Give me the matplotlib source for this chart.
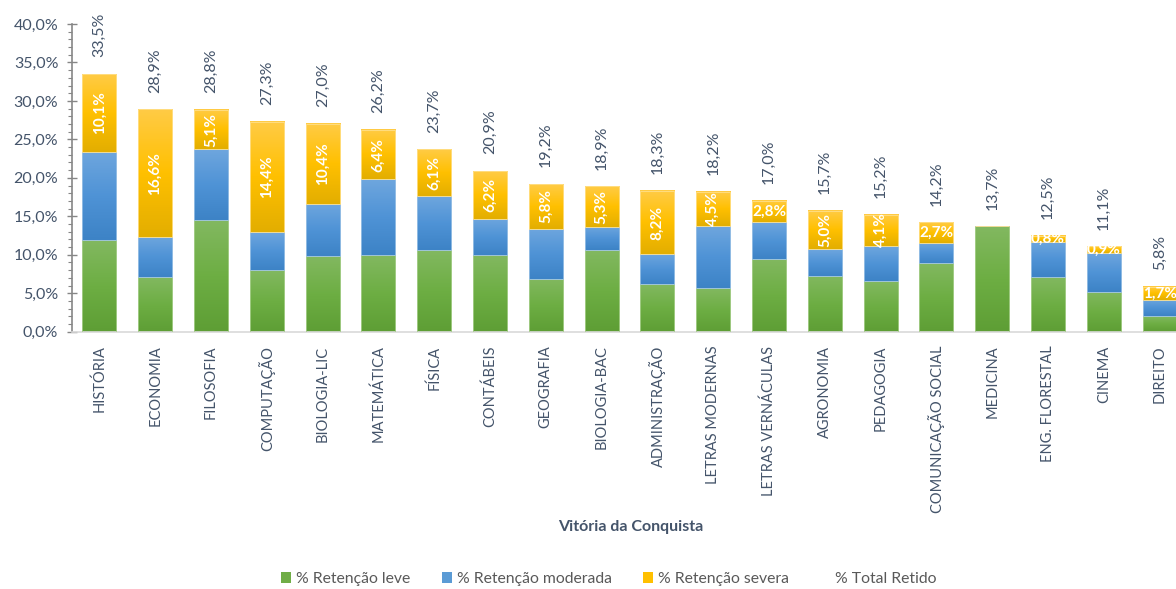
import numpy as np
import matplotlib
matplotlib.use("Agg")
import matplotlib.pyplot as plt
from matplotlib.colors import LinearSegmentedColormap
from matplotlib.patches import Patch
from matplotlib.lines import Line2D
from matplotlib.ticker import MultipleLocator, FuncFormatter

# dados
cursos = ["HISTÓRIA", "ECONOMIA", "FILOSOFIA", "COMPUTAÇÃO", "BIOLOGIA-LIC",
          "MATEMÁTICA", "FÍSICA", "CONTÁBEIS", "GEOGRAFIA", "BIOLOGIA-BAC",
          "ADMINISTRAÇÃO", "LETRAS MODERNAS", "LETRAS VERNÁCULAS", "AGRONOMIA",
          "PEDAGOGIA", "COMUNICAÇÃO SOCIAL", "MEDICINA", "ENG. FLORESTAL",
          "CINEMA", "DIREITO"]
leve = [11.9, 7.1, 14.5, 8.0, 9.8, 10.0, 10.6, 10.0, 6.9, 10.6,
        6.2, 5.7, 9.5, 7.3, 6.6, 8.9, 13.7, 7.1, 5.2, 2.0]
moderada = [11.5, 5.2, 9.2, 4.9, 6.8, 9.8, 7.0, 4.7, 6.5, 3.0,
            3.9, 8.0, 4.7, 3.4, 4.5, 2.6, 0.0, 4.6, 5.0, 2.1]
severa = [10.1, 16.6, 5.1, 14.4, 10.4, 6.4, 6.1, 6.2, 5.8, 5.3,
          8.2, 4.5, 2.8, 5.0, 4.1, 2.7, 0.0, 0.8, 0.9, 1.7]
total = [33.5, 28.9, 28.8, 27.3, 27.0, 26.2, 23.7, 20.9, 19.2, 18.9,
         18.3, 18.2, 17.0, 15.7, 15.2, 14.2, 13.7, 12.5, 11.1, 5.8]

TXT = "#44546A"
plt.rcParams["font.family"] = ["Lato", "DejaVu Sans"]


def fmt(v):
    return f"{v:.1f}".replace(".", ",") + "%"


fig = plt.figure(figsize=(11.76, 5.89), dpi=100)
ax = fig.add_axes([71.5 / 1176, 1 - 331.7 / 589, 1116 / 1176, (331.7 - 24) / 589])

x = np.arange(len(cursos))
leve = np.array(leve)
moderada = np.array(moderada)
severa = np.array(severa)

# gradientes estilo Excel
grad = np.linspace(0, 1, 64).reshape(-1, 1)
cmaps = {
    "verde": LinearSegmentedColormap.from_list("g", ["#5E9E35", "#6DAE43", "#82B860"]),
    "azul": LinearSegmentedColormap.from_list("b", ["#3D83C6", "#4F93D6", "#6EA6DE"]),
    "amarelo": LinearSegmentedColormap.from_list("y", ["#E3AE00", "#FFC000", "#FFCB45"]),
}


def draw_series(bottom, vals, key, edge):
    bars = ax.bar(x, vals, 0.61, bottom=bottom, facecolor="none",
                  edgecolor=edge, linewidth=0.6, zorder=3)
    for b in bars:
        h = b.get_height()
        if h <= 0:
            continue
        x0 = b.get_x()
        ax.imshow(grad, extent=[x0, x0 + b.get_width(), b.get_y(), b.get_y() + h],
                  origin="lower", aspect="auto", cmap=cmaps[key], zorder=2)
    return bars


draw_series(0, leve, "verde", "#A9D08E")
draw_series(leve, moderada, "azul", "#9DC3E6")
draw_series(leve + moderada, severa, "amarelo", "#FFE08A")

# rótulos da retenção severa
for i, v in enumerate(severa):
    if v <= 0:
        continue
    yc = leve[i] + moderada[i] + v / 2
    rot = 90 if v >= 4 else 0
    ax.text(x[i], yc, fmt(v), color="white", fontsize=11, fontweight="bold",
            rotation=rot, ha="center", va="center", zorder=5)

# série total (sem linha) com rótulos
ax.plot(x, total, linestyle="none")
for i, v in enumerate(total):
    ax.annotate(fmt(v), (x[i], v), xytext=(0, 12), textcoords="offset points",
                rotation=90, ha="center", va="bottom", color=TXT, fontsize=11.5)

ax.set_xlim(-0.5, len(cursos) - 0.5)
ax.set_ylim(0, 40)
ax.yaxis.set_major_locator(MultipleLocator(5))
ax.yaxis.set_minor_locator(MultipleLocator(1))
ax.yaxis.set_major_formatter(FuncFormatter(lambda v, p: fmt(v)))
ax.tick_params(axis="y", which="major", direction="inout", length=7, width=1,
               color="#868686", labelcolor=TXT, labelsize=11.5, pad=6)
ax.tick_params(axis="y", which="minor", direction="out", length=3, width=0.8,
               color="#868686")
ax.set_xticks(x)
ax.set_xticklabels(cursos, rotation=90, va="top", ha="center")
ax.tick_params(axis="x", length=0, labelcolor=TXT, labelsize=10.5, pad=10)

for s in ["top", "right"]:
    ax.spines[s].set_visible(False)
ax.spines["left"].set_color("#868686")
ax.spines["left"].set_linewidth(1.2)
ax.spines["bottom"].set_color("#D9D9D9")
ax.spines["bottom"].set_linewidth(1.2)

fig.text(631 / 1176, 1 - 527 / 589, "Vitória da Conquista", ha="center", va="center",
         color=TXT, fontsize=11.5, fontweight="bold")

handles = [
    Patch(facecolor="#70AD47"),
    Patch(facecolor="#5B9BD5"),
    Patch(facecolor="#FFC000"),
    Line2D([], [], linestyle="none"),
]
labels = ["% Retenção leve", "% Retenção moderada", "% Retenção severa", "% Total Retido"]
fig.legend(handles, labels, loc="center", bbox_to_anchor=(609 / 1176, 1 - 579 / 589),
           ncol=4, frameon=False, fontsize=11.3, handlelength=0.65, handleheight=0.65,
           handletextpad=0.3, columnspacing=2.0, labelcolor="#595959")

fig.savefig("out.png", dpi=100)
